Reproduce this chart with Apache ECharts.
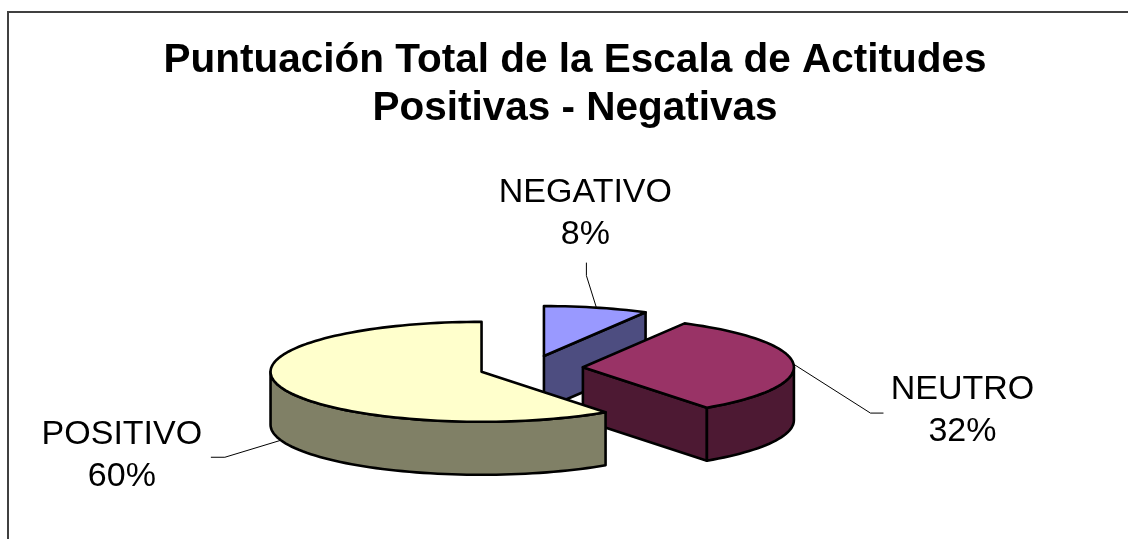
<!DOCTYPE html>
<html>
<head>
<meta charset="utf-8">
<script src="https://cdn.jsdelivr.net/npm/echarts@6/dist/echarts.min.js"></script>
<style>
  html, body { margin: 0; padding: 0; background: #fff; }
  #myChart { width: 1128px; height: 539px; }
</style>
</head>
<body>
<div id="myChart"></div>
<script>
// data
var categories = ["NEGATIVO", "NEUTRO", "POSITIVO"];
var values = [8, 32, 60];

var topColors = ["#9999FF", "#993366", "#FFFFCC"];
var sideColors = ["#4D4D80", "#4D1933", "#808066"];

// leader line / label placement, relative to the slice anchor point
var labelLayout = [
  { line: [[-10, -32], [-10, -45]], text: [-11, -94] },
  { line: [[77, 49], [90, 49]], text: [169, 47] },
  { line: [[-56, 17], [-70, 17]], text: [-159, 15] }
];

var pie = { cx: 531, cy: 368, rx: 211, ry: 50, depth: 53, explode: 52 };
var labelFont = '34px "Liberation Sans", Arial, sans-serif';

var total = values.reduce(function (a, b) { return a + b; }, 0);

function rimPoint(c, a) {
  return [c[0] + pie.rx * Math.sin(a), c[1] - pie.ry * Math.cos(a)];
}
function down(p) { return [p[0], p[1] + pie.depth]; }
function arc(c, a0, a1) {
  var pts = [];
  var n = Math.max(2, Math.ceil(Math.abs(a1 - a0) / (Math.PI / 90)));
  for (var k = 0; k <= n; k++) pts.push(rimPoint(c, a0 + (a1 - a0) * k / n));
  return pts;
}

// back to front order of slices
var mids = [];
var acc0 = 0;
for (var j = 0; j < values.length; j++) {
  mids.push((acc0 + values[j] / 2) / total * Math.PI * 2);
  acc0 += values[j];
}
var order = mids.map(function (m, j) { return j; })
  .sort(function (a, b) { return -Math.cos(mids[a]) + Math.cos(mids[b]); });

function renderItem(params, api) {
  var i = params.dataIndex;
  var acc = 0;
  for (var j = 0; j < i; j++) acc += values[j];
  var s = acc / total * Math.PI * 2;
  var e = (acc + api.value(0)) / total * Math.PI * 2;
  var m = (s + e) / 2;
  var c = [pie.cx + pie.explode * Math.sin(m),
           pie.cy - pie.explode * pie.ry / pie.rx * Math.cos(m)];
  var rank = order.indexOf(i) * 10;
  var edge = { stroke: "#000", lineWidth: 2.6, lineJoin: "round" };
  var kids = [];

  function poly(points, fill, z) {
    kids.push({
      type: "polygon",
      z2: z,
      shape: { points: points },
      style: Object.assign({ fill: fill }, edge)
    });
  }

  // radial faces
  if (Math.sin(s) < -0.01) {
    var p = rimPoint(c, s);
    poly([c, p, down(p), down(c)], sideColors[i], rank + 1);
  }
  if (Math.sin(e) > 0.01) {
    var q = rimPoint(c, e);
    poly([c, q, down(q), down(c)], sideColors[i], rank + 1);
  }
  // outer wall, front part only
  var w0 = Math.max(s, Math.PI / 2), w1 = Math.min(e, Math.PI * 1.5);
  if (w1 > w0) {
    var topArc = arc(c, w0, w1);
    var botArc = topArc.map(down).reverse();
    poly(topArc.concat(botArc), sideColors[i], rank + 2);
  }
  // top face
  poly([c].concat(arc(c, s, e)), topColors[i], rank + 3);

  // label + leader line
  var front = Math.cos(m) < 0;
  var anchor = rimPoint(c, m);
  if (front) anchor = down(anchor);
  var lay = labelLayout[i];
  var linePts = [anchor].concat(lay.line.map(function (d) {
    return [anchor[0] + d[0], anchor[1] + d[1]];
  }));
  kids.push({
    type: "polyline",
    z2: 100,
    shape: { points: linePts },
    style: { stroke: "#000", lineWidth: 1, fill: null }
  });
  kids.push({
    type: "text",
    z2: 101,
    x: anchor[0] + lay.text[0],
    y: anchor[1] + lay.text[1],
    style: {
      text: categories[i] + "\n" + Math.round(api.value(0) / total * 100) + "%",
      font: labelFont,
      fill: "#000",
      align: "center",
      verticalAlign: "middle",
      lineHeight: 42
    }
  });
  return { type: "group", children: kids };
}

var chartDom = document.getElementById("myChart");
var myChart = echarts.init(chartDom, null, { renderer: "canvas" });
var option = {
  animation: false,
  backgroundColor: "#fff",
  title: {
    text: "Puntuación Total de la Escala de Actitudes\nPositivas - Negativas",
    left: 575,
    top: 37,
    textAlign: "center",
    padding: 0,
    textStyle: {
      fontFamily: '"Liberation Sans", Arial, sans-serif',
      fontSize: 40.5,
      fontWeight: "bold",
      color: "#000",
      lineHeight: 48
    }
  },
  graphic: [
    {
      type: "polyline",
      shape: { points: [[8, 700], [8, 12], [1300, 12]] },
      style: { fill: null, stroke: "#404040", lineWidth: 2 }
    }
  ],
  series: [
    {
      type: "custom",
      coordinateSystem: "none",
      renderItem: renderItem,
      data: values.map(function (v, i) { return { name: categories[i], value: v }; })
    }
  ]
};
option && myChart.setOption(option);
</script>
</body>
</html>
